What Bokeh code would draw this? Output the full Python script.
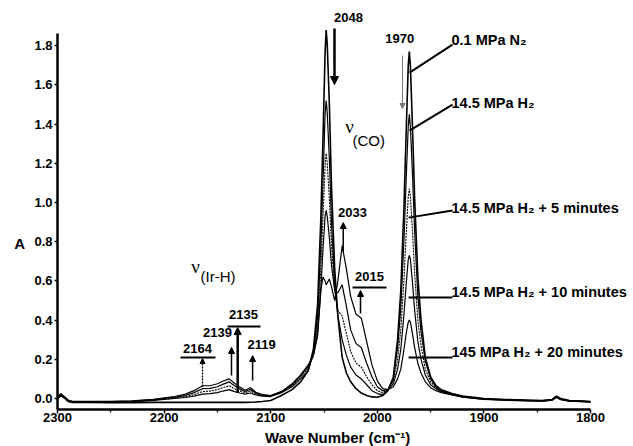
from bokeh.plotting import figure
from bokeh.models import Range1d, FixedTicker, Label, Arrow, NormalHead, PrintfTickFormatter
from bokeh.embed import file_html
from bokeh.resources import INLINE

# ---------------- data ----------------
wavenumber = [2300, 2297, 2294, 2290, 2286, 2270, 2250, 2230, 2210, 2200,
              2190, 2180, 2172, 2164, 2157, 2150, 2145, 2139, 2134, 2129,
              2124, 2119, 2114, 2108, 2100, 2090, 2080, 2072, 2065, 2060,
              2056, 2053, 2051, 2049, 2048, 2047, 2045, 2043, 2040, 2037,
              2033, 2029, 2025, 2020, 2015, 2010, 2005, 2000, 1995, 1990,
              1985, 1981, 1978, 1975, 1973, 1971, 1970, 1969, 1967, 1965,
              1962, 1959, 1955, 1950, 1945, 1940, 1930, 1920, 1900, 1880,
              1860, 1845, 1836, 1832, 1828, 1820, 1810, 1800]

abs_n2 = [0.0, 0.015, 0.005, -0.015, -0.02, -0.02, -0.021, -0.021, -0.02, -0.02,
          -0.02, -0.02, -0.02, -0.02, -0.02, -0.02, -0.02, -0.02, -0.02, -0.02,
          -0.02, -0.019, -0.018, -0.015, -0.01, 0.015, 0.045, 0.085, 0.14, 0.25,
          0.48, 0.92, 1.32, 1.77, 1.88, 1.81, 1.50, 1.08, 0.66, 0.42,
          0.21, 0.13, 0.085, 0.05, 0.028, 0.015, 0.008, 0.006, 0.015, 0.04,
          0.11, 0.30, 0.55, 0.98, 1.35, 1.70, 1.77, 1.70, 1.38, 1.02,
          0.62, 0.40, 0.21, 0.11, 0.065, 0.045, 0.025, 0.012, 0.0, -0.005,
          -0.008, -0.01, -0.005, 0.012, 0.0, -0.01, -0.012, -0.015]

abs_h2 = [0.0, 0.015, 0.005, -0.015, -0.02, -0.02, -0.02, -0.018, -0.01, -0.005,
          0.0, 0.005, 0.012, 0.022, 0.025, 0.03, 0.038, 0.045, 0.035, 0.028,
          0.022, 0.028, 0.018, 0.012, 0.01, 0.03, 0.06, 0.10, 0.14, 0.23,
          0.42, 0.78, 1.10, 1.45, 1.52, 1.46, 1.22, 0.90, 0.58, 0.42,
          0.30, 0.22, 0.16, 0.12, 0.10, 0.07, 0.04, 0.025, 0.02, 0.045,
          0.10, 0.26, 0.46, 0.81, 1.11, 1.39, 1.45, 1.39, 1.14, 0.85,
          0.52, 0.34, 0.19, 0.10, 0.06, 0.04, 0.022, 0.01, -0.002, -0.006,
          -0.009, -0.011, -0.006, 0.01, -0.002, -0.011, -0.013, -0.016]

abs_h2_5min = [0.005, 0.02, 0.008, -0.012, -0.018, -0.018, -0.018, -0.015, -0.008, -0.003,
               0.003, 0.01, 0.02, 0.035, 0.038, 0.045, 0.055, 0.065, 0.05, 0.038,
               0.03, 0.038, 0.024, 0.016, 0.012, 0.03, 0.065, 0.11, 0.15, 0.22,
               0.38, 0.66, 0.92, 1.19, 1.25, 1.20, 1.02, 0.78, 0.55, 0.45,
               0.42, 0.33, 0.24, 0.18, 0.16, 0.11, 0.07, 0.04, 0.03, 0.045,
               0.09, 0.20, 0.35, 0.61, 0.83, 1.03, 1.07, 1.03, 0.85, 0.64,
               0.40, 0.27, 0.15, 0.085, 0.055, 0.037, 0.02, 0.008, -0.004, -0.007,
               -0.01, -0.012, -0.007, 0.008, -0.004, -0.012, -0.014, -0.017]

abs_h2_10min = [0.005, 0.02, 0.01, -0.01, -0.016, -0.016, -0.016, -0.013, -0.006, 0.0,
                0.007, 0.015, 0.03, 0.05, 0.052, 0.06, 0.072, 0.085, 0.065, 0.048,
                0.036, 0.046, 0.028, 0.018, 0.014, 0.035, 0.07, 0.115, 0.16, 0.22,
                0.34, 0.56, 0.76, 0.93, 0.96, 0.93, 0.82, 0.68, 0.55, 0.54,
                0.58, 0.47, 0.35, 0.28, 0.26, 0.18, 0.11, 0.06, 0.04, 0.045,
                0.075, 0.15, 0.25, 0.43, 0.58, 0.71, 0.73, 0.71, 0.59, 0.45,
                0.29, 0.20, 0.12, 0.07, 0.05, 0.035, 0.02, 0.008, -0.004, -0.008,
                -0.011, -0.013, -0.008, 0.006, -0.005, -0.013, -0.015, -0.018]

abs_h2_20min = [0.01, 0.025, 0.012, -0.008, -0.014, -0.015, -0.015, -0.012, -0.004, 0.003,
                0.01, 0.022, 0.04, 0.065, 0.065, 0.075, 0.088, 0.10, 0.078, 0.058,
                0.042, 0.055, 0.032, 0.02, 0.015, 0.035, 0.075, 0.12, 0.17, 0.22,
                0.32, 0.55, 0.62, 0.60, 0.58, 0.59, 0.61, 0.57, 0.50, 0.60,
                0.78, 0.66, 0.52, 0.43, 0.41, 0.29, 0.17, 0.09, 0.05, 0.045,
                0.06, 0.10, 0.15, 0.25, 0.33, 0.39, 0.40, 0.39, 0.33, 0.26,
                0.18, 0.13, 0.085, 0.055, 0.04, 0.03, 0.018, 0.007, -0.005, -0.009,
                -0.012, -0.014, -0.009, 0.005, -0.006, -0.014, -0.016, -0.019]

series_labels = ["0.1 MPa N\u2082", "14.5 MPa H\u2082", "14.5 MPa H\u2082 + 5 minutes",
                 "14.5 MPa H\u2082 + 10 minutes", "145 MPa H\u2082 + 20 minutes"]
x_ticks = [2300, 2200, 2100, 2000, 1900, 1800]
x_minor_ticks = [2250, 2150, 2050, 1950, 1850]
y_ticks = [0.0, 0.2, 0.4, 0.6, 0.8, 1.0, 1.2, 1.4, 1.6, 1.8]
band_labels = ["2048", "1970", "2033", "2015", "2164", "2139", "2135", "2119"]

# ---------------- figure ----------------
FONT = "Liberation Sans"
X_LO, X_HI = 1800, 2300
Y_LO, Y_HI = -0.056, 1.865
p = figure(width=633, height=446, output_backend="svg", toolbar_location=None,
           x_range=Range1d(2353.5, 1759.7), y_range=Range1d(-0.245, 2.031),
           min_border=0, min_border_left=0, min_border_right=0,
           min_border_top=0, min_border_bottom=0)
p.outline_line_color = None
p.grid.visible = False

xa, ya = p.xaxis[0], p.yaxis[0]
xa.fixed_location = Y_LO
ya.fixed_location = X_HI
xa.bounds = (X_LO, X_HI)
ya.bounds = (Y_LO, Y_HI)

for ax in (xa, ya):
    ax.axis_line_width = 2.5
    ax.axis_line_color = "black"
    ax.major_tick_line_width = 1.5
    ax.major_tick_in = 0
    ax.major_tick_out = 4
    ax.minor_tick_in = 0
    ax.minor_tick_out = 3
    ax.minor_tick_line_width = 1.2
    ax.major_label_text_font = FONT
    ax.major_label_text_font_style = "bold"
    ax.major_label_text_font_size = "13px"
    ax.major_label_text_color = "black"
    ax.major_label_standoff = 2

xa.major_label_standoff = 0
xa.ticker = FixedTicker(ticks=x_ticks, minor_ticks=x_minor_ticks)
ya.ticker = FixedTicker(ticks=y_ticks)
ya.formatter = PrintfTickFormatter(format="%.1f")
ya.minor_tick_line_color = None
ya.major_tick_out = 3

# spectra
all_series = [abs_n2, abs_h2, abs_h2_5min, abs_h2_10min, abs_h2_20min]
widths = [1.6, 1.2, 1.1, 1.2, 1.2]
dashes = ["solid", "solid", "2 1", "solid", "solid"]
for ys, w, d in zip(all_series, widths, dashes):
    p.line(wavenumber, ys, line_color="black", line_width=w, line_dash=d)

def lab(x, y, text, size="13px", style="bold", align="center", font=FONT):
    p.add_layout(Label(x=x, y=y, text=text, text_font=font, text_font_size=size,
                       text_font_style=style, text_align=align,
                       text_baseline="middle", text_color="black"))

def arrow(x, y0, y1, width=1.5, head=6, color="black", dash="solid"):
    p.add_layout(Arrow(end=NormalHead(size=head, fill_color=color, line_color=color),
                       x_start=x, y_start=y0, x_end=x, y_end=y1,
                       line_color=color, line_width=width, line_dash=dash))

# band labels and arrows
lab(2027, 1.944, band_labels[0])
arrow(2040.2, 1.888, 1.602, width=2.5, head=8)
lab(1979, 1.837, band_labels[1])
arrow(1976.4, 1.75, 1.48, width=1, head=5, color="#777777")
lab(2023.3, 0.949, band_labels[2])
arrow(2032, 0.745, 0.898, width=1.5, head=6)
lab(2007.3, 0.622, band_labels[3])
arrow(2015.8, 0.434, 0.551, width=1.5, head=6)
lab(2168.7, 0.255, band_labels[4])
arrow(2164, 0.061, 0.204, width=1.3, head=5, dash="2 1")
lab(2149.9, 0.337, band_labels[5])
arrow(2136.8, 0.117, 0.26, width=1.5, head=6)
lab(2125.5, 0.429, band_labels[6])
arrow(2131, 0.03, 0.362, width=2.5, head=7)
lab(2108.6, 0.276, band_labels[7])
arrow(2117, 0.092, 0.219, width=1.5, head=6)

# underlines
p.segment(x0=[2023.3, 2184.6, 2140.5], y0=[0.566, 0.209, 0.367],
          x1=[1991.4, 2151.8, 2109.6], y1=[0.566, 0.209, 0.367],
          line_color="black", line_width=2)

# nu labels
lab(2026, 1.388, "\u03bd", size="19px", style="normal", font="Liberation Serif")
lab(2023.3, 1.316, "(CO)", size="15px", style="normal", align="left")
lab(2170.5, 0.673, "\u03bd", size="19px", style="normal", font="Liberation Serif")
lab(2165.9, 0.622, "(Ir-H)", size="15px", style="normal", align="left")

# series labels with pointer lines
label_y = [1.827, 1.51, 0.974, 0.541, 0.235]
for t, yv in zip(series_labels, label_y):
    lab(1930.4, yv, t, size="14.5px", align="left")
p.segment(x0=[1929.5, 1929.5, 1929.5, 1929.5, 1929.5],
          y0=[1.806, 1.50, 0.959, 0.515, 0.209],
          x1=[1969.8, 1969.8, 1970.7, 1970.7, 1970.7],
          y1=[1.663, 1.367, 0.923, 0.515, 0.209],
          line_color="black", line_width=2)

# axis titles
lab(2335.6, 0.791, "A", size="15px")
lab(2037.3, -0.199, "Wave Number (cm\u207b\u00b9)", size="15px")

open("out.html", "w").write(file_html(p, INLINE))
